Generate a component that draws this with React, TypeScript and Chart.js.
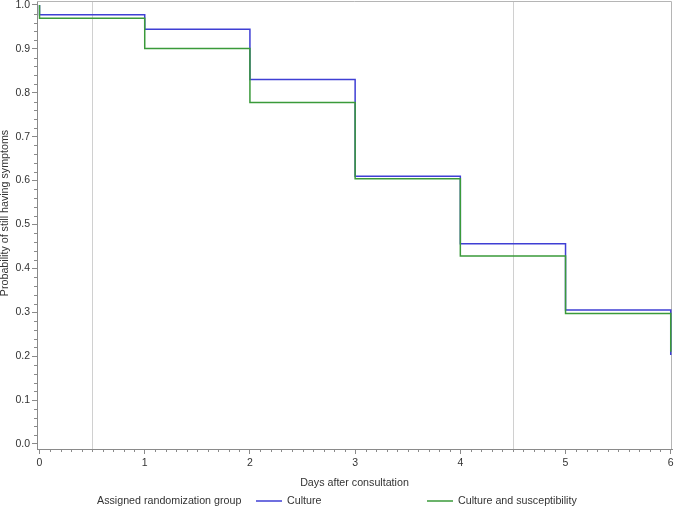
import React, { useEffect, useRef } from "react";
import { Chart, registerables } from "chart.js";

Chart.register(...registerables);

const days = [0, 0, 1, 2, 3, 4, 5, 6];
const culture = [1.0, 0.978, 0.945, 0.83, 0.61, 0.456, 0.305, 0.203];
const cultureSusceptibility = [1.0, 0.97, 0.901, 0.778, 0.604, 0.428, 0.297, 0.21];
const referenceDays = [0.5, 4.5];
const seriesNames = ["Culture", "Culture and susceptibility"];
const legendTitle = "Assigned randomization group";
const xTitle = "Days after consultation";
const yTitle = "Probability of still having symptoms";

const BLUE = "#3f3fd4";
const GREEN = "#3a9a3a";
const FONT = "'Liberation Sans', Arial, sans-serif";
const TEXT = "#333333";
const AXIS = "#8a8a8a";
const TITLE_SIZE = 10.7;

const extrasPlugin = {
  id: "extras",
  beforeDatasetsDraw(chart: any) {
    const { ctx, chartArea } = chart;
    const xs = chart.scales.x;
    ctx.save();
    ctx.strokeStyle = "#d0d0d0";
    ctx.lineWidth = 1;
    referenceDays.forEach((d) => {
      const px = Math.round(xs.getPixelForValue(d)) + 0.5;
      ctx.beginPath();
      ctx.moveTo(px, chartArea.top);
      ctx.lineTo(px, chartArea.bottom);
      ctx.stroke();
    });
    ctx.strokeStyle = "#b5b5b5";
    ctx.beginPath();
    ctx.moveTo(chartArea.left, chartArea.top + 0.5);
    ctx.lineTo(chartArea.right - 0.5, chartArea.top + 0.5);
    ctx.lineTo(chartArea.right - 0.5, chartArea.bottom);
    ctx.stroke();
    ctx.restore();
  },
  afterDraw(chart: any) {
    const { ctx, chartArea } = chart;
    const xs = chart.scales.x;
    const ys = chart.scales.y;
    ctx.save();
    ctx.strokeStyle = AXIS;
    ctx.lineWidth = 1;
    for (let i = 0; i <= 60; i++) {
      if (i % 10 === 0) continue;
      const px = Math.round(xs.getPixelForValue(i / 10)) + 0.5;
      ctx.beginPath();
      ctx.moveTo(px, chartArea.bottom);
      ctx.lineTo(px, chartArea.bottom + 3);
      ctx.stroke();
    }
    for (let i = 0; i <= 50; i++) {
      if (i % 5 === 0) continue;
      const py = Math.round(ys.getPixelForValue(i / 50)) + 0.5;
      ctx.beginPath();
      ctx.moveTo(chartArea.left, py);
      ctx.lineTo(chartArea.left - 3, py);
      ctx.stroke();
    }
    // y-axis title
    ctx.font = `${TITLE_SIZE}px ${FONT}`;
    ctx.fillStyle = TEXT;
    ctx.textBaseline = "middle";
    ctx.textAlign = "center";
    ctx.save();
    ctx.translate(5.5, 213);
    ctx.rotate(-Math.PI / 2);
    ctx.fillText(yTitle, 0, 0);
    ctx.restore();
    // legend
    const ly = 501;
    ctx.textAlign = "left";
    ctx.fillText(legendTitle, 97, ly);
    const items = [
      { x: 256, color: BLUE, label: seriesNames[0] },
      { x: 427, color: GREEN, label: seriesNames[1] },
    ];
    items.forEach((it) => {
      ctx.strokeStyle = it.color;
      ctx.lineWidth = 1.5;
      ctx.beginPath();
      ctx.moveTo(it.x, ly);
      ctx.lineTo(it.x + 26, ly);
      ctx.stroke();
      ctx.fillStyle = TEXT;
      ctx.fillText(it.label, it.x + 31, ly);
    });
    ctx.restore();
  },
};

export default function App() {
  const ref = useRef<HTMLCanvasElement>(null);
  useEffect(() => {
    document.body.style.margin = "0";
    const canvas = ref.current!;
    const chart = new Chart(canvas, {
      type: "line",
      data: {
        datasets: [
          {
            label: seriesNames[0],
            data: days.map((d, i) => ({ x: d, y: culture[i] })),
            borderColor: BLUE,
            borderWidth: 1.5,
            pointRadius: 0,
            stepped: "before",
            fill: false,
            order: 1,
          },
          {
            label: seriesNames[1],
            data: days.map((d, i) => ({ x: d, y: cultureSusceptibility[i] })),
            borderColor: GREEN,
            borderWidth: 1.5,
            pointRadius: 0,
            stepped: "before",
            fill: false,
            order: 0,
          },
        ],
      },
      options: {
        animation: false,
        responsive: false,
        layout: { padding: { top: 1, right: 2, bottom: 0, left: 0 } },
        plugins: {
          legend: { display: false },
          tooltip: { enabled: false },
        },
        scales: {
          x: {
            type: "linear",
            min: -0.024,
            max: 6.012,
            afterFit: (s: any) => {
              s.height = 58;
              s.paddingLeft = 0;
              s.paddingRight = 0;
            },
            ticks: {
              stepSize: 1,
              includeBounds: false,
              padding: 3,
              color: TEXT,
              font: { family: FONT, size: 10.5 },
              maxRotation: 0,
              callback: (v: any) => String(v),
            },
            grid: {
              drawOnChartArea: false,
              drawTicks: true,
              tickLength: 5,
              color: AXIS,
            },
            border: { display: true, color: AXIS },
            title: {
              display: true,
              text: xTitle,
              color: TEXT,
              font: { family: FONT, size: TITLE_SIZE },
              padding: { top: 0, bottom: 18 },
            },
          },
          y: {
            type: "linear",
            min: -0.0114,
            max: 1.0091,
            afterFit: (s: any) => {
              s.width = 37;
              s.paddingTop = 0;
              s.paddingBottom = 0;
            },
            ticks: {
              stepSize: 0.1,
              includeBounds: false,
              padding: 2,
              color: TEXT,
              font: { family: FONT, size: 10.5 },
              callback: (v: any) => Number(v).toFixed(1),
            },
            grid: {
              drawOnChartArea: false,
              drawTicks: true,
              tickLength: 5,
              color: AXIS,
            },
            border: { display: true, color: AXIS },
            title: { display: false },
          },
        },
      },
      plugins: [extrasPlugin],
    });
    return () => chart.destroy();
  }, []);
  return <canvas ref={ref} width={674} height={507} style={{ display: "block" }} />;
}
